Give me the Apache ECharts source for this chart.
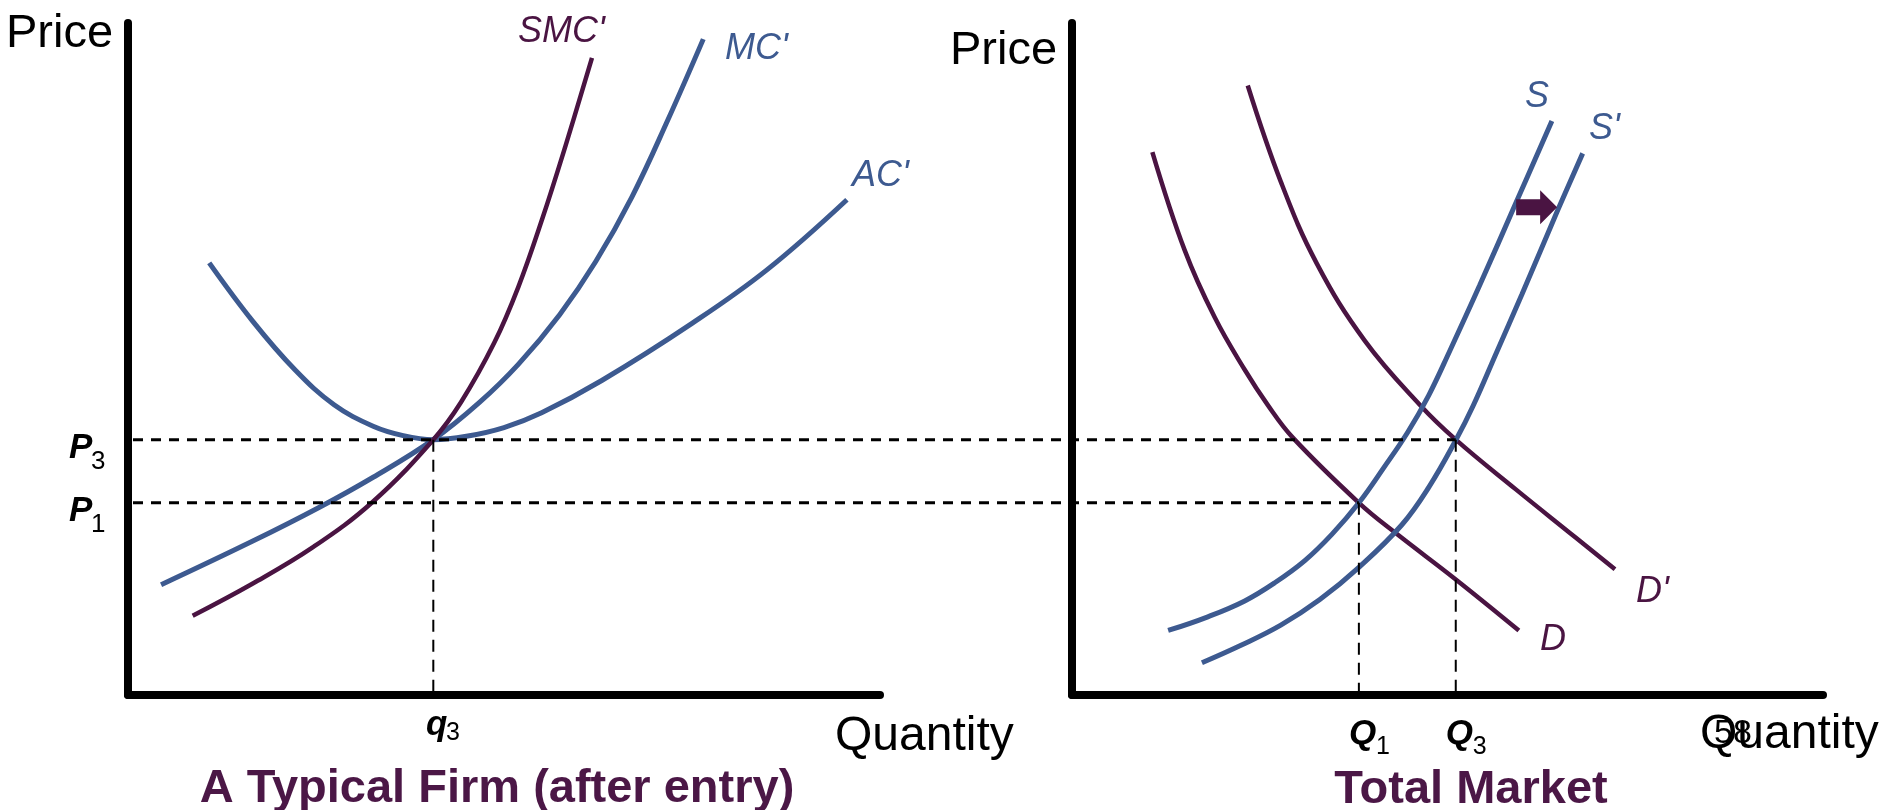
<!DOCTYPE html>
<html>
<head>
<meta charset="utf-8">
<style>
  html, body { margin: 0; padding: 0; background: #fff; }
  #chart { width: 1888px; height: 810px; }
</style>
<script src="https://cdn.jsdelivr.net/npm/echarts@6/dist/echarts.min.js"></script>
</head>
<body>
<div id="chart"></div>
<script>
// both panels use 0-100 units on each axis
const P3 = 38;
const P1 = 28.6;
const q3 = 40.6;
const Q1 = 38.2;
const Q3 = 51.1;

// firm curves
const smcFirm = [[8.6, 11.8], [16.6, 16.6], [24.6, 22], [32.6, 28.8], [40.6, 38], [44.3, 43.6],
  [48.7, 52.4], [51.9, 60.7], [55.1, 70.9], [58.2, 81.8], [61.7, 94.8]];
const mcFirm = [[4.4, 16.4], [16.6, 22.9], [25.4, 27.9], [32.6, 32.4], [40.6, 38], [46.7, 43.5],
  [51.9, 49.2], [57.4, 56.6], [62.2, 64.5], [67, 74.1], [71.8, 85.6], [76.5, 97.6]];
const acFirm = [[10.8, 64.3], [16.6, 55.6], [22.2, 48.4], [27.4, 43.2], [32.6, 40], [36.6, 38.6],
  [40.6, 38], [45, 38.5], [50, 39.8], [55, 42], [63, 46.8], [75, 55.3], [85, 63.3], [95.6, 73.7]];

// market curves
const demand = [[10.7, 80.8], [15, 66.2], [19, 56.2], [23, 48.4], [26.1, 43.1], [29.4, 38.3],
  [38.2, 28.6], [43.1, 24.1], [51.1, 17.2], [59.5, 9.6]];
const demand2 = [[23.4, 90.7], [27.8, 76.4], [32.6, 64.2], [39, 52.7], [46.3, 43.2], [51.1, 38],
  [59.1, 30.6], [67.1, 23.4], [72.3, 18.7]];
const supply = [[12.8, 9.6], [18, 11.6], [23, 14], [27, 16.7], [31, 20], [34.6, 23.9], [38.2, 28.6],
  [41.5, 33.8], [44.7, 39.1], [47.5, 44.6], [50.3, 51.2], [54.3, 61], [59.1, 73.2], [63.9, 85.4]];
const supply2 = [[17.3, 4.8], [22.5, 7.4], [27.8, 10.4], [33, 14.2], [38.2, 19], [43.9, 25.3],
  [47.5, 30.9], [51.1, 37.9], [53.4, 43], [56.5, 50.9], [59.9, 59.6], [64.7, 72.2], [68, 80.6]];

const arrowTip = [64.6, 72.6];

const blue = '#3d5a90';
const purple = '#4a1442';
const titleColor = '#4b1746';
const font = '"Liberation Sans", Arial, sans-serif';

const chart = echarts.init(document.getElementById('chart'));

function axis(gi) {
  return {
    type: 'value', gridIndex: gi, min: 0, max: 100,
    axisLine: { show: true, onZero: false, lineStyle: { color: '#000', width: 8 } },
    axisTick: { show: false }, axisLabel: { show: false }, splitLine: { show: false }
  };
}

function curve(gi, data, color, width) {
  return {
    type: 'line', xAxisIndex: gi, yAxisIndex: gi, data: data, smooth: 0.4,
    symbol: 'none', lineStyle: { color: color, width: width }, z: 3
  };
}

function vDash(gi, x, y) {
  return {
    type: 'line', xAxisIndex: gi, yAxisIndex: gi, data: [[x, y], [x, 0]],
    symbol: 'none', lineStyle: { color: '#000', width: 2, type: [12, 8] }, z: 4
  };
}

chart.setOption({
  animation: false,
  grid: [
    { left: 128, top: 23, width: 752, height: 672 },
    { left: 1072, top: 23, width: 751, height: 672 }
  ],
  xAxis: [axis(0), axis(1)],
  yAxis: [axis(0), axis(1)],
  series: [
    curve(0, acFirm, blue, 5),
    curve(0, mcFirm, blue, 5),
    curve(0, smcFirm, purple, 4.5),
    curve(1, demand, purple, 4.5),
    curve(1, demand2, purple, 4.5),
    curve(1, supply, blue, 5),
    curve(1, supply2, blue, 5),
    vDash(0, q3, P3),
    vDash(1, Q1, P1),
    vDash(1, Q3, P3)
  ]
});

const px0 = p => chart.convertToPixel({ gridIndex: 0 }, p);
const px1 = p => chart.convertToPixel({ gridIndex: 1 }, p);

function txt(text, x, y, size, opts) {
  opts = opts || {};
  return {
    type: 'text', x: x, y: y + 4, z: 20,
    style: {
      text: text, fill: opts.color || '#000', fontSize: size, fontFamily: font,
      fontWeight: opts.weight || 'normal', fontStyle: opts.style || 'normal',
      align: opts.align || 'left', textAlign: opts.align || 'left',
      verticalAlign: 'middle', textVerticalAlign: 'middle'
    }
  };
}

const graphics = [];

// horizontal dashed price lines
[[P3, Q3], [P1, Q1]].forEach(function (pq) {
  const a = px0([0, pq[0]]);
  const b = px1([pq[1], pq[0]]);
  graphics.push({
    type: 'line', z: 10,
    shape: { x1: a[0] + 5, y1: a[1], x2: b[0], y2: b[1] },
    style: { stroke: '#000', lineWidth: 3, lineDash: [10, 8] }
  });
});

// price level labels
const bi = { weight: 'bold', style: 'italic' };
[[P3, '3'], [P1, '1']].forEach(function (p) {
  const y = px0([0, p[0]])[1];
  graphics.push(txt('P', 69, y + 5, 35, bi));
  graphics.push(txt(p[1], 91, y + 18, 26));
});

// quantity labels
const qa = px0([q3, 0]);
graphics.push(txt('q', 426, qa[1] + 26, 35, bi));
graphics.push(txt('3', 446, qa[1] + 34, 25));
[[Q1, '1'], [Q3, '3']].forEach(function (q) {
  const p = px1([q[0], 0]);
  graphics.push(txt('Q', p[0] - 10, p[1] + 35, 35, bi));
  graphics.push(txt(q[1], p[0] + 17, p[1] + 48, 25));
});

// curve labels
const curveLabels = [
  ["SMC'", 518, 28, purple], ["MC'", 725, 45, blue], ["AC'", 852, 172, blue],
  ['S', 1525, 93, blue], ["S'", 1589, 125, blue], ['D', 1540, 636, purple], ["D'", 1636, 588, purple]
];
curveLabels.forEach(function (l) {
  graphics.push(txt(l[0], l[1], l[2], 36, { color: l[3], style: 'italic' }));
});

// axis names
graphics.push(txt('Price', 6, 30, 47));
graphics.push(txt('Price', 950, 47, 47));
graphics.push(txt('Quantity', 835, 733, 48));
graphics.push(txt('Quantity', 1700, 731, 48));
graphics.push(txt('58', 1714, 730, 34));

// panel titles
graphics.push(txt('A Typical Firm (after entry)', 497, 785, 47, { weight: 'bold', color: titleColor, align: 'center' }));
graphics.push(txt('Total Market', 1471, 786, 47, { weight: 'bold', color: titleColor, align: 'center' }));

// shift arrow
const tip = px1(arrowTip);
graphics.push({
  type: 'polygon', z: 15,
  shape: {
    points: [[tip[0] - 41, tip[1] - 8], [tip[0] - 17, tip[1] - 8], [tip[0] - 17, tip[1] - 17], [tip[0], tip[1]],
      [tip[0] - 17, tip[1] + 17], [tip[0] - 17, tip[1] + 8], [tip[0] - 41, tip[1] + 8]]
  },
  style: { fill: purple }
});

chart.setOption({ graphic: graphics });
</script>
</body>
</html>
